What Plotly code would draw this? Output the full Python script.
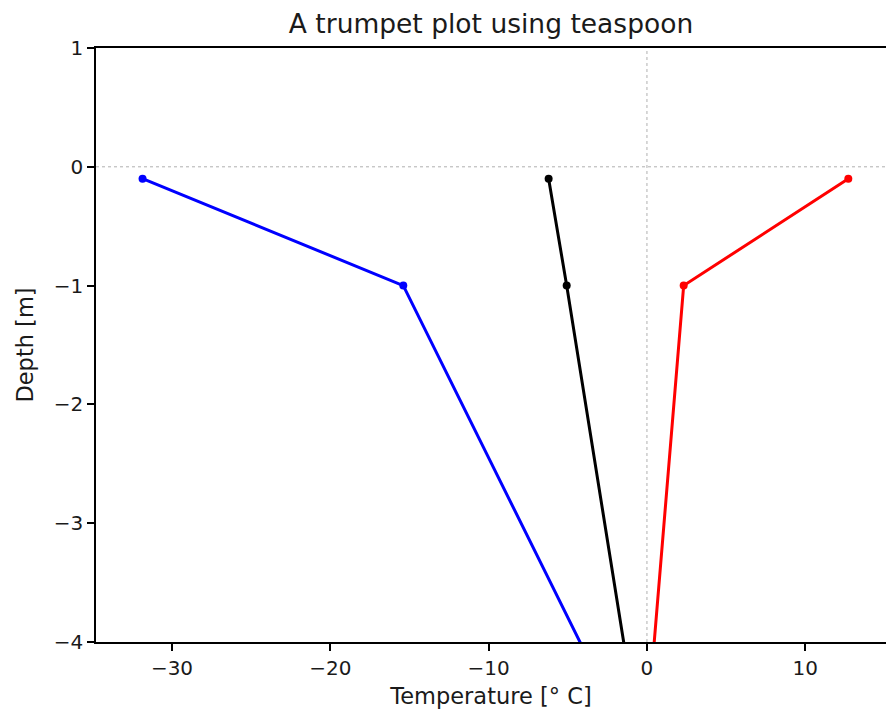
import plotly.graph_objects as go

depth = [-0.1, -1.0, -5.0]
temp_min = [-31.86, -15.39, -0.51]
temp_mean = [-6.21, -5.07, -0.27]
temp_max = [12.72, 2.32, -0.16]

x_range = [-34.8, 15.1]
y_range = [-4, 1]
x_ticks = [-30, -20, -10, 0, 10]
y_ticks = [-4, -3, -2, -1, 0, 1]

FONT = "DejaVu Sans"
TXT = "#1a1a1a"

fig = go.Figure()
for vals, col in [(temp_min, "blue"), (temp_mean, "black"), (temp_max, "red")]:
    fig.add_trace(go.Scatter(
        x=vals, y=depth, mode="lines+markers",
        line=dict(color=col, width=3),
        marker=dict(color=col, size=8),
        showlegend=False, cliponaxis=True,
    ))

fig.add_hline(y=0, line=dict(color="#b0b0b0", width=1, dash="dot"), layer="below")
fig.add_vline(x=0, line=dict(color="#b0b0b0", width=1, dash="dot"), layer="below")

fig.update_layout(
    width=886, height=710,
    margin=dict(l=96, r=0, t=48, b=68),
    paper_bgcolor="white", plot_bgcolor="white",
    font=dict(family=FONT, size=20, color=TXT),
    title=dict(text="A trumpet plot using teaspoon", x=(96 + 886) / 2 / 886, xanchor="center",
               y=1 - 24 / 710, yanchor="middle", yref="container",
               font=dict(family=FONT, size=26.5, color=TXT)),
)
fig.update_xaxes(
    range=x_range, tickvals=x_ticks, ticktext=[f"{v}".replace("-", "\u2212") for v in x_ticks],
    showgrid=False, zeroline=False,
    showline=True, linecolor="black", linewidth=1.6, mirror=True,
    ticks="outside", ticklen=7, tickwidth=1.6, tickcolor="black",
    title=dict(text="Temperature [° C]", standoff=9, font=dict(size=22.5)),
    tickfont=dict(size=20),
)
fig.update_yaxes(
    range=y_range, tickvals=y_ticks, ticktext=[f"{v}".replace("-", "\u2212") for v in y_ticks],
    showgrid=False, zeroline=False,
    showline=True, linecolor="black", linewidth=1.6, mirror=False,
    ticks="outside", ticklen=7, tickwidth=1.6, tickcolor="black",
    title=dict(text="Depth [m]", standoff=14, font=dict(size=22.5)),
    tickfont=dict(size=20),
)

fig.write_html(
    "out.html",
    config={"displayModeBar": False},
    post_script="document.body.style.margin='0';document.documentElement.style.overflow='hidden';",
)
